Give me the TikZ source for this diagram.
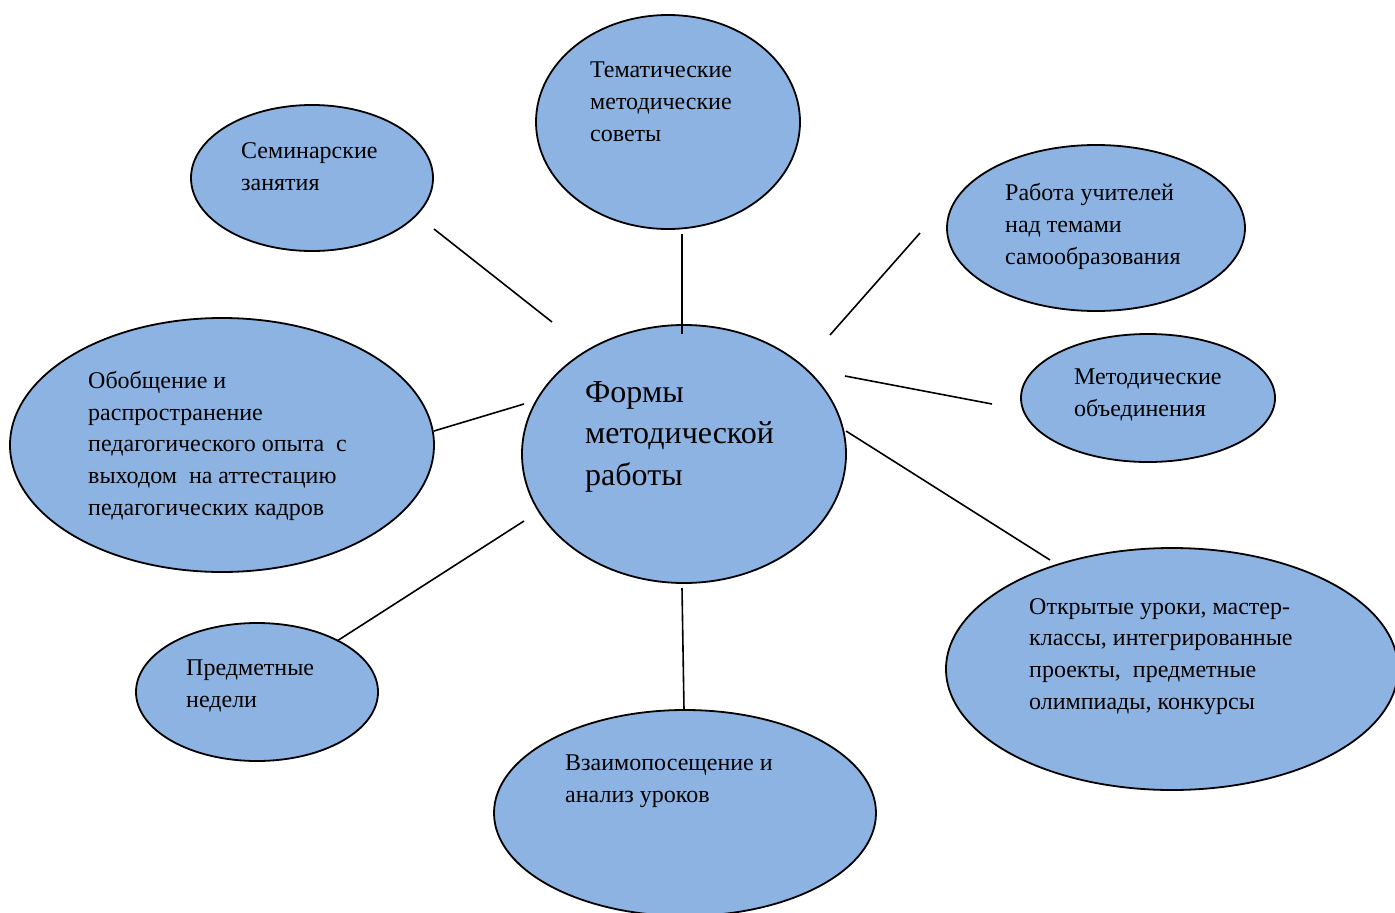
\documentclass[tikz,border=0pt]{standalone}
\usepackage{fontspec}
\setmainfont{Liberation Serif}
\usetikzlibrary{shapes.geometric}
\definecolor{bubble}{RGB}{141,179,226}
\tikzset{
  bub/.style={ellipse, draw=black, line width=1.8pt, fill=bubble, inner sep=0pt},
  txt/.style={anchor=base west, align=left, inner sep=0pt, font=\fontsize{24}{31.6}\selectfont},
  bigtxt/.style={anchor=base west, align=left, inner sep=0pt, font=\fontsize{32}{41.5}\selectfont},
  con/.style={line width=1.6pt}
}
\begin{document}
\begin{tikzpicture}[x=1pt,y=-1pt]
\useasboundingbox (0,0) rectangle (1395,913);
\clip (0,0) rectangle (1395,913);
% ellipses
\node[bub, minimum width=242pt, minimum height=146pt] (sem) at (312,178) {};
\node[bub, minimum width=264pt, minimum height=214pt] (tem) at (668,122) {};
\node[bub, minimum width=298pt, minimum height=166pt] (rab) at (1096,228) {};
\node[bub, minimum width=254pt, minimum height=128pt] (met) at (1148,398) {};
\node[bub, minimum width=452pt, minimum height=242pt] (otk) at (1172,669) {};
\node[bub, minimum width=382pt, minimum height=206pt] (vza) at (685,813) {};
\node[bub, minimum width=242pt, minimum height=138pt] (pre) at (257,692) {};
\node[bub, minimum width=424pt, minimum height=254pt] (obo) at (222,445) {};
\node[bub, minimum width=324pt, minimum height=258pt] (cen) at (684,454) {};
% texts (anchored at the baseline of the last line)
\node[txt] (tsem) at (241,190) {Семинарские\\занятия};
\node[txt] (ttem) at (590,141) {Тематические\\методические\\советы};
\node[txt] (trab) at (1005,264) {Работа учителей\\над темами\\самообразования};
\node[txt] (tmet) at (1074,416) {Методические\\объединения};
\node[txt] (totk) at (1029,709) {Открытые уроки, мастер-\\классы, интегрированные\\проекты,\ \ предметные\\олимпиады, конкурсы};
\node[txt] (tvza) at (565,802) {Взаимопосещение и\\анализ уроков};
\node[txt] (tpre) at (186,707) {Предметные\\недели};
\node[txt] (tobo) at (88,515) {Обобщение и\\распространение\\педагогического опыта\ \ с\\выходом\ \ на аттестацию\\педагогических кадров};
\node[bigtxt] (tcen) at (585,485) {Формы\\методической\\работы};
% connector ends
\coordinate (a1) at (434,229); \coordinate (a2) at (552,322);
\coordinate (b1) at (682,234); \coordinate (b2) at (682,334);
\coordinate (c1) at (920,233); \coordinate (c2) at (830,335);
\coordinate (d1) at (845,376); \coordinate (d2) at (992,404);
\coordinate (e1) at (846,431); \coordinate (e2) at (1050,560);
\coordinate (f1) at (682,588); \coordinate (f2) at (684,710);
\coordinate (g1) at (524,521); \coordinate (g2) at (337,641);
\coordinate (h1) at (524,404); \coordinate (h2) at (434,431);
\draw[con] (a1) -- (a2);
\draw[con] (b1) -- (b2);
\draw[con] (c1) -- (c2);
\draw[con] (d1) -- (d2);
\draw[con] (e1) -- (e2);
\draw[con] (f1) -- (f2);
\draw[con] (g1) -- (g2);
\draw[con] (h1) -- (h2);
\end{tikzpicture}
\end{document}
